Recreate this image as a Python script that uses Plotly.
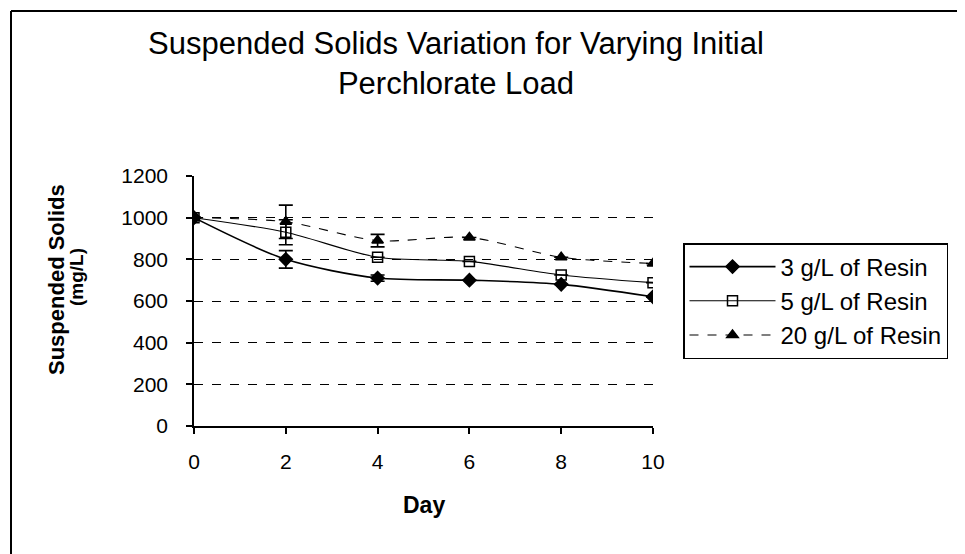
import plotly.graph_objects as go

days = [0, 2, 4, 6, 8, 10]
s3 = [1000, 800, 710, 700, 680, 620]
s3_err = [0, 42, 15, 0, 0, 0]
s5 = [1000, 930, 810, 790, 725, 688]
s5_err = [0, 60, 0, 0, 0, 0]
s20 = [1000, 980, 890, 905, 810, 780]
s20_err = [0, 80, 30, 0, 0, 0]
names = ["3 g/L of Resin", "5 g/L of Resin", "20 g/L of Resin"]
y_ticks = [0, 200, 400, 600, 800, 1000, 1200]
x_ticks = [0, 2, 4, 6, 8, 10]

# page body has an 8px margin, so the figure is drawn 8px smaller and shifted
OFF = 8
W, H = 965 - OFF, 554 - OFF
PL, PR, PT, PB = 194 - OFF, 653 - OFF, 176 - OFF, 426 - OFF
PW, PH = PR - PL, PB - PT


def px_x(x):
    return (x - OFF - PL) / PW


def px_y(y):
    return (PB - (y - OFF)) / PH


fig = go.Figure()
styles = [
    dict(symbol="diamond", size=10, dash="solid", width=1.6),
    dict(symbol="square-open", size=10, dash="solid", width=1.1),
    dict(symbol="triangle-up", size=10, dash="dash", width=1.1),
]
for name, ys, err, st in zip(names, [s3, s5, s20], [s3_err, s5_err, s20_err], styles):
    fig.add_trace(go.Scatter(
        x=days, y=ys, name=name, mode="lines+markers",
        line=dict(color="black", width=st["width"], dash=st["dash"], shape="spline", smoothing=0.8),
        marker=dict(symbol=st["symbol"], size=st["size"], color="black",
                    line=dict(color="black", width=1.5)),
        error_y=dict(type="data", array=err, visible=True, color="black", thickness=1.6, width=7),
    ))

font_main = "Liberation Sans, Arial, sans-serif"
fig.update_layout(
    width=W, height=H,
    margin=dict(l=PL, r=W - PR, t=PT, b=H - PB),
    paper_bgcolor="white", plot_bgcolor="white",
    font=dict(family=font_main, color="black", size=20),
    title=dict(text="Suspended Solids Variation for Varying Initial<br>Perchlorate Load",
               x=(456 - OFF) / W, xanchor="center", y=1 - (54 - OFF) / H, yanchor="middle",
               font=dict(size=31, family=font_main)),
    xaxis=dict(range=[0, 10], tickvals=x_ticks, showgrid=False, zeroline=False,
               showline=True, linecolor="black", linewidth=1.6,
               ticks="outside", ticklen=6, tickcolor="black", tickwidth=1.5,
               ticklabelstandoff=10,
               tickfont=dict(size=21)),
    yaxis=dict(range=[0, 1200], tickvals=y_ticks, showgrid=True, gridcolor="black",
               griddash="dash", gridwidth=1.2, zeroline=False,
               showline=True, linecolor="black", linewidth=1.6,
               ticks="outside", ticklen=6, tickcolor="black", tickwidth=1.5,
               ticklabelstandoff=14,
               tickfont=dict(size=21)),
    legend=dict(x=px_x(683), y=px_y(243), xanchor="left", yanchor="top",
                bordercolor="black", borderwidth=1.5, bgcolor="white",
                font=dict(size=24), tracegroupgap=0, itemwidth=86),
    showlegend=True,
)

fig.add_annotation(text="<b>Day</b>", xref="paper", yref="paper",
                   x=px_x(424), y=px_y(505), xanchor="center", yanchor="middle",
                   showarrow=False, font=dict(size=23))
fig.add_annotation(text="<b>Suspended Solids</b>", xref="paper", yref="paper",
                   x=px_x(56), y=px_y(280), xanchor="center", yanchor="middle",
                   textangle=-90, showarrow=False, font=dict(size=22))
fig.add_annotation(text="<b>(mg/L)</b>", xref="paper", yref="paper",
                   x=px_x(76), y=px_y(277), xanchor="center", yanchor="middle",
                   textangle=-90, showarrow=False, font=dict(size=19))

# outer frame: top and left edges
fig.add_shape(type="line", xref="paper", yref="paper",
              x0=px_x(11), x1=px_x(965), y0=px_y(11), y1=px_y(11),
              line=dict(color="black", width=2))
fig.add_shape(type="line", xref="paper", yref="paper",
              x0=px_x(11), x1=px_x(11), y0=px_y(11), y1=px_y(554),
              line=dict(color="black", width=2))

fig.write_html("out.html")
